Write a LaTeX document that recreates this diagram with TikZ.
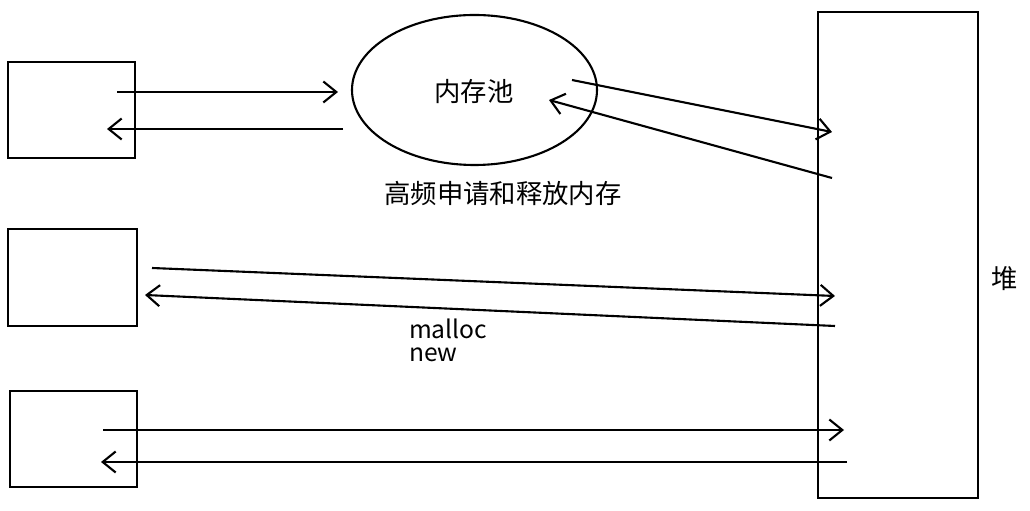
\documentclass[tikz,border=0pt]{standalone}
\usepackage{fontspec}
\setmainfont{Noto Sans CJK SC}
\usetikzlibrary{shapes.geometric,arrows.meta}
\begin{document}
\begin{tikzpicture}[
  box/.style={draw, line width=1.2pt, minimum width=2.54cm, minimum height=1.92cm},
  pool/.style={draw, ellipse, line width=1.2pt, minimum width=4.9cm, minimum height=3.0cm},
  arrow/.style={-{Straight Barb[length=2.6mm,width=4.2mm]}, line width=1.2pt},
  note/.style={font=\fontsize{15}{18}\selectfont, align=left}
]
  \useasboundingbox (0,0) rectangle (20.6,10.22);
  \fill[white] (0,0) rectangle (20.6,10.22);

  \node[box] (b1) at (1.43,8.02) {};
  \node[box, minimum width=2.58cm, minimum height=1.94cm] (b2) at (1.45,4.67) {};
  \node[box] (b3) at (1.47,1.44) {};
  \node[pool] (pool) at (9.49,8.42) {};
  \node[box, minimum width=3.2cm, minimum height=9.72cm] (heap) at (17.96,5.12) {};

  \node[note] (pooltxt) at (9.48,8.38) {内存池};
  \node[note] (freq) at (10.06,6.36) {高频申请和释放内存};
  \node[note, font=\fontsize{14}{17}\selectfont, anchor=west] (mal) at (8.06,3.64) {malloc};
  \node[note, font=\fontsize{14}{17}\selectfont, anchor=west] (nw) at (8.06,3.12) {new};
  \node[note] (heaptxt) at (20.1,4.64) {堆};

  % arrow end points
  \coordinate (p1) at (2.34,8.38);   \coordinate (q1) at (6.76,8.38);
  \coordinate (p2) at (6.86,7.64);   \coordinate (q2) at (2.14,7.64);
  \coordinate (p3) at (11.44,8.62);  \coordinate (q3) at (16.64,7.58);
  \coordinate (p4) at (16.64,6.66);  \coordinate (q4) at (10.98,8.22);
  \coordinate (p5) at (3.04,4.86);   \coordinate (q5) at (16.70,4.30);
  \coordinate (p6) at (16.70,3.70);  \coordinate (q6) at (2.90,4.32);
  \coordinate (p7) at (2.06,1.62);   \coordinate (q7) at (16.88,1.62);
  \coordinate (p8) at (16.94,0.98);  \coordinate (q8) at (2.02,0.98);

  \foreach \i in {1,...,8}
    \draw[arrow] (p\i) -- (q\i);
\end{tikzpicture}
\end{document}
